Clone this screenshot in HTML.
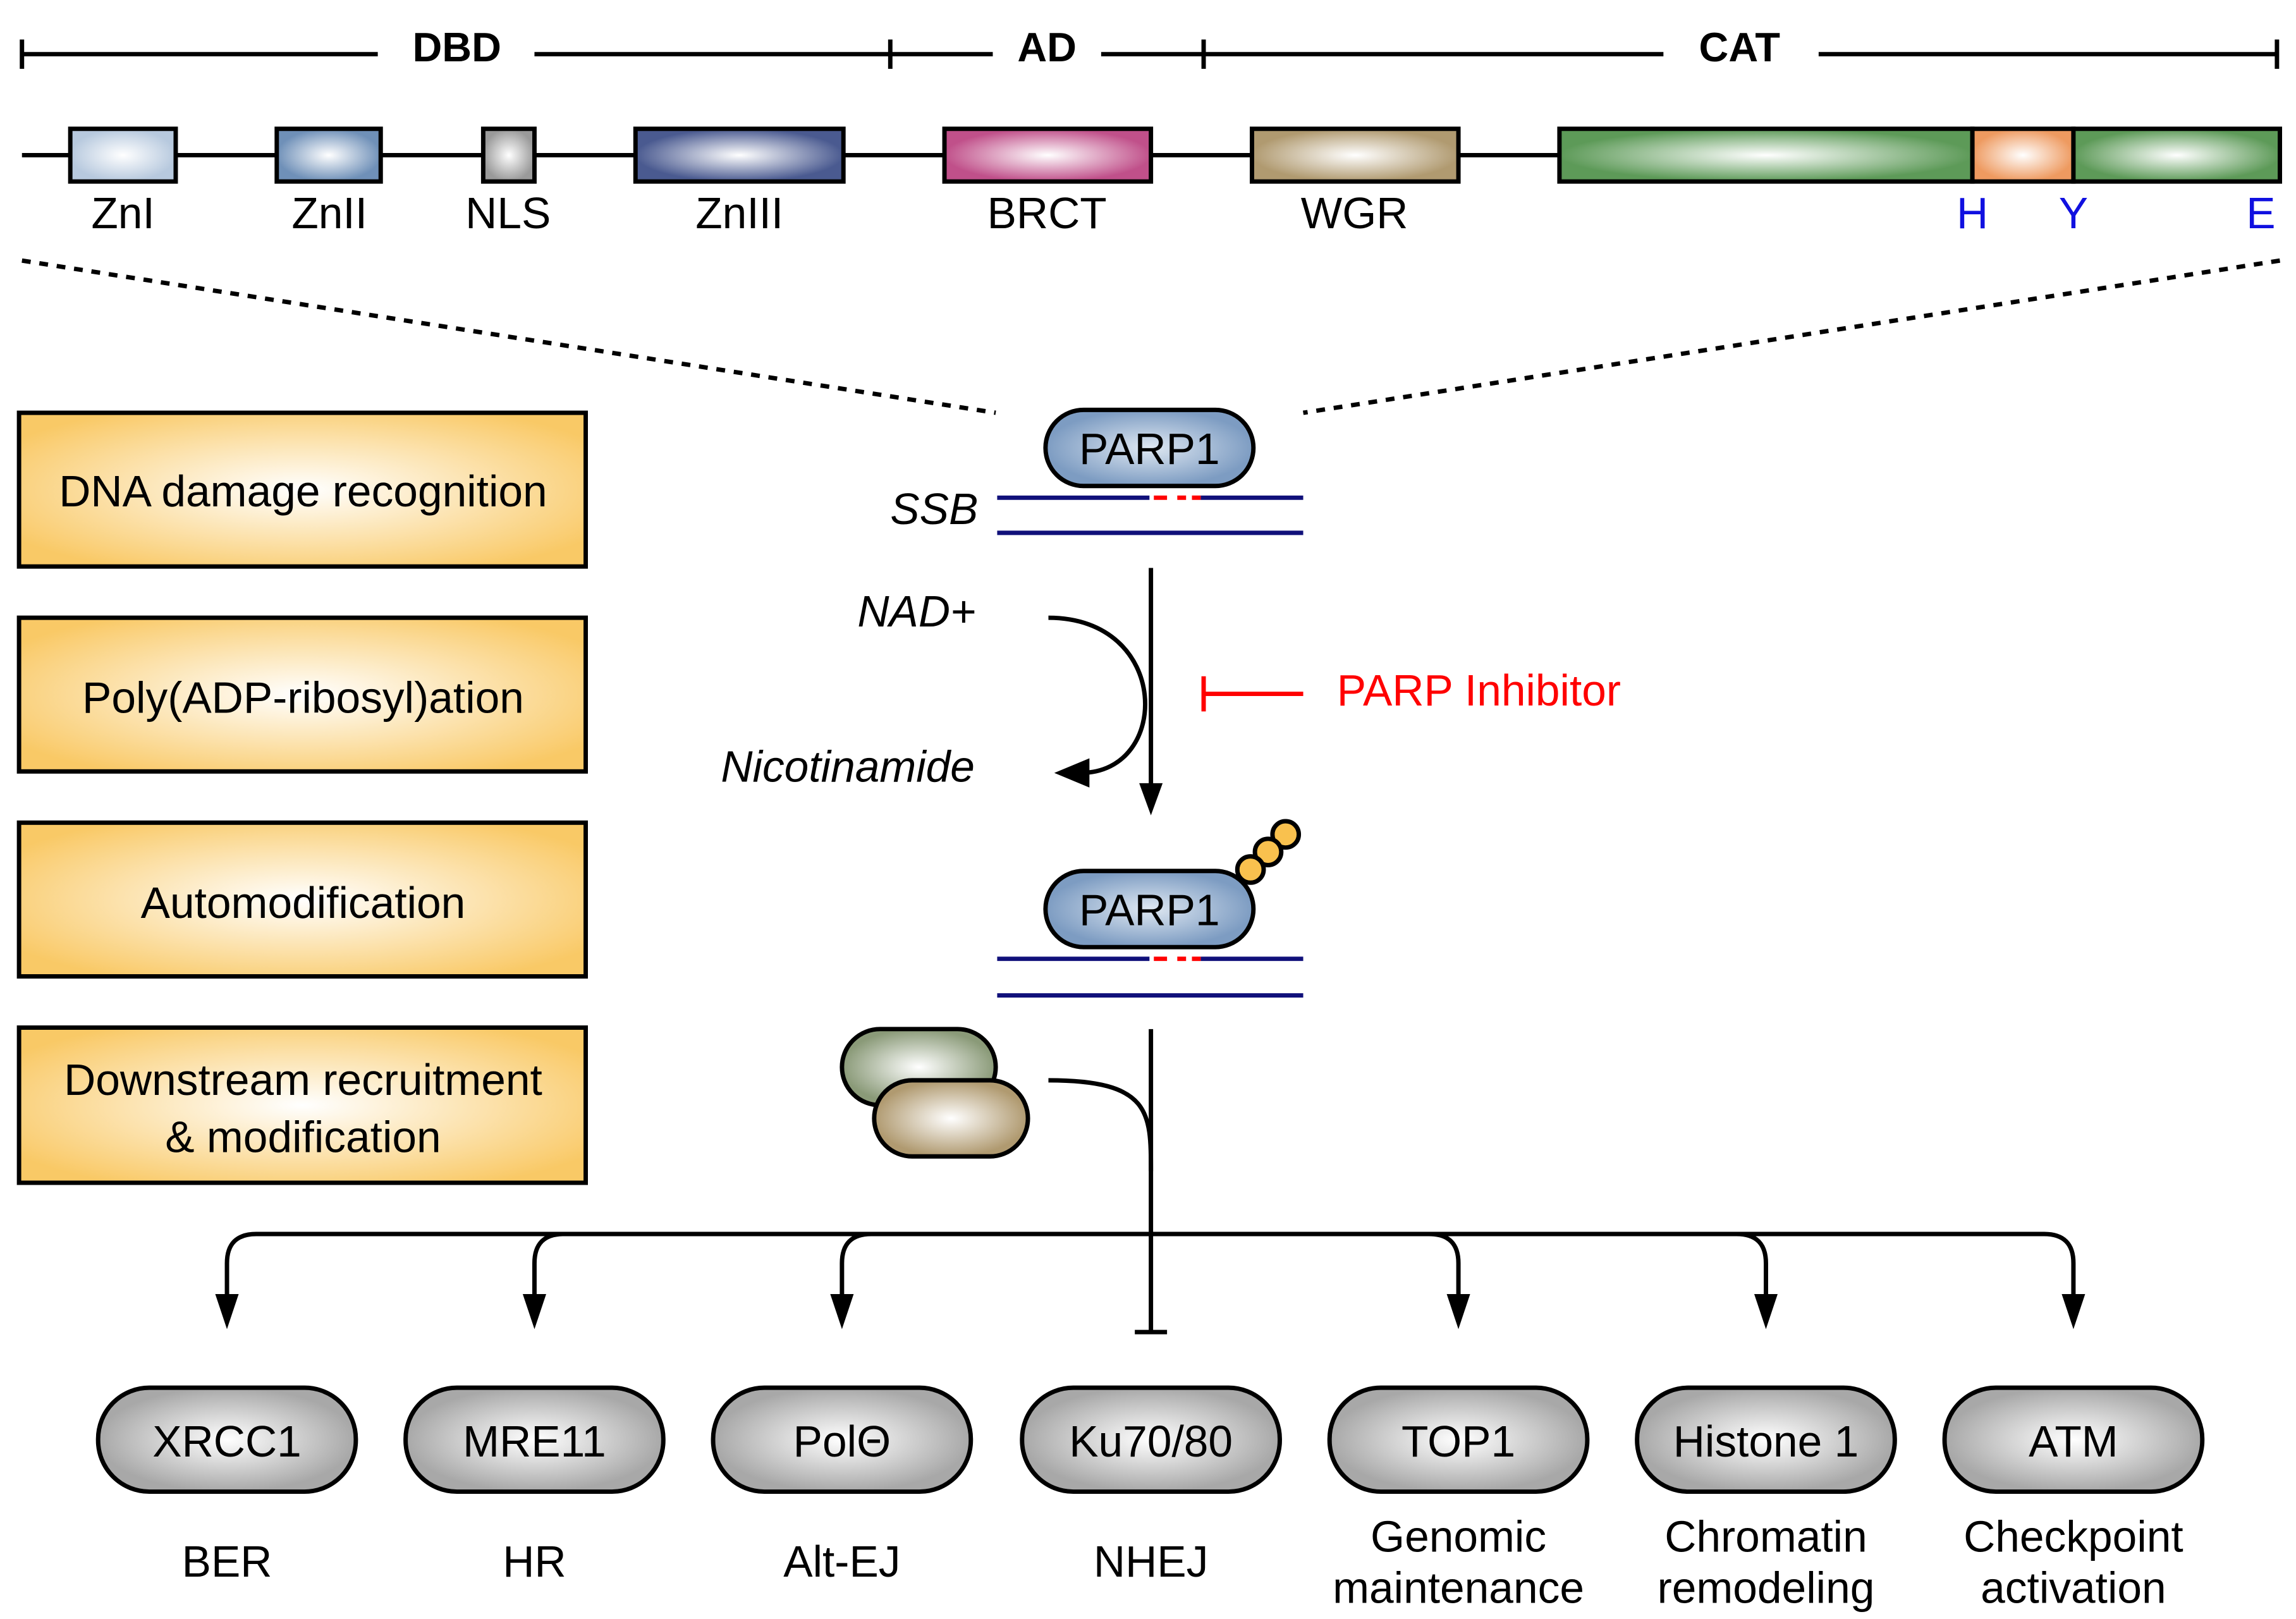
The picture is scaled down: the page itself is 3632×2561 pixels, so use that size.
<!DOCTYPE html>
<html><head><meta charset="utf-8"><style>html,body{margin:0;padding:0;background:#fff}svg{display:block}</style></head>
<body>
<svg width="3632" height="2561" viewBox="0 0 1568 1106" preserveAspectRatio="none" xmlns="http://www.w3.org/2000/svg" font-family="Liberation Sans, Arial, sans-serif">
<defs>
<radialGradient id="gb1"><stop offset="0" stop-color="#fff"/><stop offset="1" stop-color="#b7c9de"/></radialGradient>
<radialGradient id="gb2"><stop offset="0" stop-color="#fff"/><stop offset="1" stop-color="#6f90b8"/></radialGradient>
<radialGradient id="ggr"><stop offset="0" stop-color="#fff"/><stop offset="1" stop-color="#9a9a9a"/></radialGradient>
<radialGradient id="gnv"><stop offset="0" stop-color="#fff"/><stop offset="1" stop-color="#4a5a90"/></radialGradient>
<radialGradient id="gpk"><stop offset="0" stop-color="#fff"/><stop offset="1" stop-color="#c0508a"/></radialGradient>
<radialGradient id="gtn"><stop offset="0" stop-color="#fff"/><stop offset="1" stop-color="#b09a70"/></radialGradient>
<radialGradient id="ggn" cx="0.5" cy="0.5" r="0.5"><stop offset="0" stop-color="#fff"/><stop offset="1" stop-color="#5d9a58"/></radialGradient>
<radialGradient id="gor"><stop offset="0" stop-color="#fff"/><stop offset="1" stop-color="#ee9a60"/></radialGradient>
<radialGradient id="gye" cx="0.5" cy="0.5" r="0.6"><stop offset="0" stop-color="#fff"/><stop offset="1" stop-color="#f9c966"/></radialGradient>
<radialGradient id="gparp"><stop offset="0" stop-color="#dfe8f2"/><stop offset="1" stop-color="#7d9cc2"/></radialGradient>
<radialGradient id="gpill"><stop offset="0" stop-color="#fff"/><stop offset="1" stop-color="#a8a8a8"/></radialGradient>
<radialGradient id="gprg"><stop offset="0" stop-color="#fff"/><stop offset="1" stop-color="#8a9a78"/></radialGradient>
<radialGradient id="gprt"><stop offset="0" stop-color="#fff"/><stop offset="1" stop-color="#b09a70"/></radialGradient>
</defs>
<g stroke="#000" stroke-width="3">
<line x1="15" y1="37" x2="258" y2="37"/><line x1="365" y1="37" x2="608" y2="37"/>
<line x1="608" y1="37" x2="678" y2="37"/><line x1="752" y1="37" x2="822" y2="37"/>
<line x1="822" y1="37" x2="1136" y2="37"/><line x1="1242" y1="37" x2="1555" y2="37"/>
<line x1="15" y1="27" x2="15" y2="47"/><line x1="608" y1="27" x2="608" y2="47"/><line x1="822" y1="27" x2="822" y2="47"/><line x1="1555" y1="27" x2="1555" y2="47"/>
<line x1="15" y1="106" x2="1557" y2="106"/>
</g>
<g font-weight="bold" font-size="28" text-anchor="middle"><text x="312" y="42">DBD</text><text x="715" y="42">AD</text><text x="1188" y="42">CAT</text></g>
<g stroke="#000" stroke-width="3">
<rect x="48" y="88" width="72" height="36" fill="url(#gb1)"/>
<rect x="189" y="88" width="71" height="36" fill="url(#gb2)"/>
<rect x="330" y="88" width="35" height="36" fill="url(#ggr)"/>
<rect x="434" y="88" width="142" height="36" fill="url(#gnv)"/>
<rect x="645" y="88" width="141" height="36" fill="url(#gpk)"/>
<rect x="855" y="88" width="141" height="36" fill="url(#gtn)"/>
<rect x="1065" y="88" width="282" height="36" fill="url(#ggn)"/>
<rect x="1347" y="88" width="69" height="36" fill="url(#gor)"/>
<rect x="1416" y="88" width="141" height="36" fill="url(#ggn)"/>
</g>
<g font-size="30" text-anchor="middle">
<text x="84" y="156">ZnI</text><text x="225" y="156">ZnII</text><text x="347" y="156">NLS</text><text x="505" y="156">ZnIII</text><text x="715" y="156">BRCT</text><text x="925" y="156">WGR</text>
<g fill="#1010e0"><text x="1347" y="156">H</text><text x="1416" y="156">Y</text><text x="1544" y="156">E</text></g>
</g>
<g stroke="#000" stroke-width="3" stroke-dasharray="6,6"><line x1="15" y1="178" x2="680" y2="282"/><line x1="1557" y1="178" x2="890" y2="282"/></g>
<g stroke="#000" stroke-width="3" fill="url(#gye)">
<rect x="13" y="282" width="387" height="105"/><rect x="13" y="422" width="387" height="105"/><rect x="13" y="562" width="387" height="105"/><rect x="13" y="702" width="387" height="106"/>
</g>
<g font-size="30" text-anchor="middle">
<text x="207" y="346">DNA damage recognition</text><text x="207" y="487">Poly(ADP-ribosyl)ation</text><text x="207" y="627">Automodification</text>
<text x="207" y="748">Downstream recruitment</text><text x="207" y="787">&amp; modification</text>
</g>
<rect x="714" y="280" width="142" height="52" rx="26" fill="url(#gparp)" stroke="#000" stroke-width="3"/>
<text x="785" y="317" font-size="30" text-anchor="middle">PARP1</text>
<text x="638" y="358" font-size="30" font-style="italic" text-anchor="middle">SSB</text>
<g stroke="#10107a" stroke-width="3"><line x1="681" y1="340" x2="890" y2="340"/><line x1="681" y1="364" x2="890" y2="364"/><line x1="681" y1="655" x2="890" y2="655"/><line x1="681" y1="680" x2="890" y2="680"/></g>
<g stroke="#fff" stroke-width="4"><line x1="785" y1="340" x2="820" y2="340"/><line x1="785" y1="655" x2="820" y2="655"/></g>
<g stroke="#f00" stroke-width="3"><line x1="788" y1="340" x2="797" y2="340"/><line x1="804" y1="340" x2="810" y2="340"/><line x1="814" y1="340" x2="820" y2="340"/><line x1="788" y1="655" x2="797" y2="655"/><line x1="804" y1="655" x2="810" y2="655"/><line x1="814" y1="655" x2="820" y2="655"/></g>
<line x1="786" y1="388" x2="786" y2="545" stroke="#000" stroke-width="3"/>
<path d="M778,535 L786,557 L794,535 Z"/>
<path d="M716,422 C800,422 800,528 738,528" fill="none" stroke="#000" stroke-width="3"/>
<path d="M744,518 L720,528 L744,538 Z"/>
<text x="626" y="428" font-size="30" font-style="italic" text-anchor="middle">NAD+</text>
<text x="579" y="534" font-size="30" font-style="italic" text-anchor="middle">Nicotinamide</text>
<g stroke="#f00" stroke-width="3"><line x1="822" y1="474" x2="890" y2="474"/><line x1="822" y1="462" x2="822" y2="486"/></g>
<text x="913" y="482" font-size="30" fill="#f00">PARP Inhibitor</text>
<g stroke="#000" stroke-width="3" fill="#f9c14e"><circle cx="878" cy="570" r="9"/><circle cx="866" cy="582" r="9"/><circle cx="854" cy="594" r="9"/></g>
<rect x="714" y="595" width="142" height="52" rx="26" fill="url(#gparp)" stroke="#000" stroke-width="3"/>
<text x="785" y="632" font-size="30" text-anchor="middle">PARP1</text>
<rect x="575" y="703" width="105" height="52" rx="26" fill="url(#gprg)" stroke="#000" stroke-width="3"/>
<rect x="597" y="738" width="105" height="52" rx="26" fill="url(#gprt)" stroke="#000" stroke-width="3"/>
<g stroke="#000" stroke-width="3" fill="none">
<line x1="786" y1="703" x2="786" y2="910"/><line x1="775" y1="910" x2="797" y2="910"/>
<path d="M716,738 C786,738 786,760 786,800"/>
<path d="M786,843 L175,843 Q155,843 155,863 L155,885"/>
<path d="M786,843 L385,843 Q365,843 365,863 L365,885"/>
<path d="M786,843 L595,843 Q575,843 575,863 L575,885"/>
<path d="M786,843 L976,843 Q996,843 996,863 L996,885"/>
<path d="M786,843 L1186,843 Q1206,843 1206,863 L1206,885"/>
<path d="M786,843 L1396,843 Q1416,843 1416,863 L1416,885"/>
</g>
<g fill="#000">
<path d="M147,884 L155,908 L163,884 Z"/><path d="M357,884 L365,908 L373,884 Z"/><path d="M567,884 L575,908 L583,884 Z"/>
<path d="M988,884 L996,908 L1004,884 Z"/><path d="M1198,884 L1206,908 L1214,884 Z"/><path d="M1408,884 L1416,908 L1424,884 Z"/>
</g>
<g stroke="#000" stroke-width="3" fill="url(#gpill)">
<rect x="67" y="948" width="176" height="71" rx="35"/><rect x="277" y="948" width="176" height="71" rx="35"/><rect x="487" y="948" width="176" height="71" rx="35"/>
<rect x="698" y="948" width="176" height="71" rx="35"/><rect x="908" y="948" width="176" height="71" rx="35"/><rect x="1118" y="948" width="176" height="71" rx="35"/><rect x="1328" y="948" width="176" height="71" rx="35"/>
</g>
<g font-size="30" text-anchor="middle">
<text x="155" y="995">XRCC1</text><text x="365" y="995">MRE11</text><text x="575" y="995">PolΘ</text><text x="786" y="995">Ku70/80</text><text x="996" y="995">TOP1</text><text x="1206" y="995">Histone 1</text><text x="1416" y="995">ATM</text>
<text x="155" y="1077">BER</text><text x="365" y="1077">HR</text><text x="575" y="1077">Alt-EJ</text><text x="786" y="1077">NHEJ</text>
<text x="996" y="1060">Genomic</text><text x="996" y="1095">maintenance</text>
<text x="1206" y="1060">Chromatin</text><text x="1206" y="1095">remodeling</text>
<text x="1416" y="1060">Checkpoint</text><text x="1416" y="1095">activation</text>
</g>
</svg>
</body></html>
